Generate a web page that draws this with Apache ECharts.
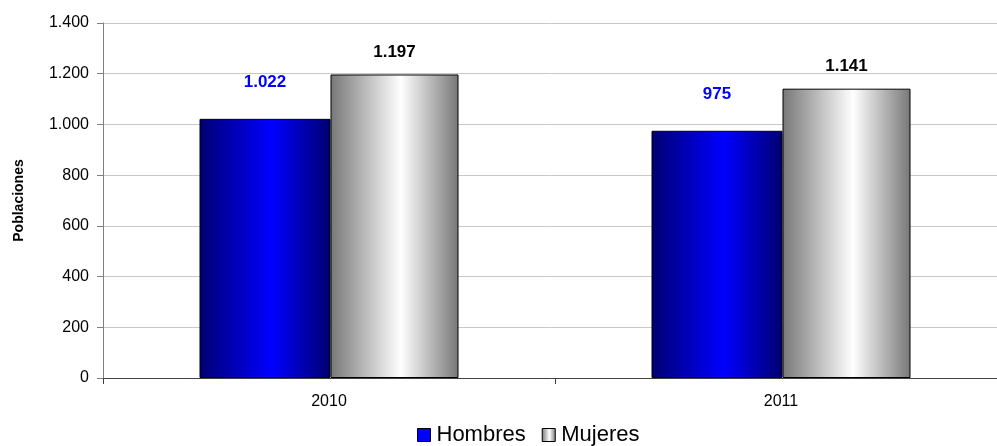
<!DOCTYPE html>
<html><head><meta charset="utf-8">
<script src="https://cdn.jsdelivr.net/npm/echarts@6/dist/echarts.min.js"></script>
<style>html,body{margin:0;padding:0;background:#fff}#c{width:997px;height:446px}</style>
</head><body><div id="c"></div>
<script>
const categories = ['2010', '2011'];
const hombres = [1022, 975];
const mujeres = [1197, 1141];
const yTicks = [0, 200, 400, 600, 800, 1000, 1200, 1400];

function fmt(v){ return String(v).replace(/\B(?=(\d{3})+(?!\d))/g, '.'); }

const blueGrad = {type:'linear',x:0,y:0,x2:1,y2:0,colorStops:[
  {offset:0,color:'#000070'},{offset:0.55,color:'#0000ff'},{offset:1,color:'#000070'}]};
const grayGrad = {type:'linear',x:0,y:0,x2:1,y2:0,colorStops:[
  {offset:0,color:'#777777'},{offset:0.55,color:'#ffffff'},{offset:1,color:'#777777'}]};

const FF = 'Liberation Sans, Arial, sans-serif';
const chart = echarts.init(document.getElementById('c'), null, {renderer:'canvas'});
chart.setOption({
  animation:false,
  textStyle:{fontFamily:FF},
  grid:{left:103,width:904,top:23,bottom:68,containLabel:false,outerBoundsMode:'none'},
  legend:{
    top:419,left:412,itemWidth:13,itemHeight:13,itemGap:16,icon:'rect',
    textStyle:{fontSize:22,color:'#000',fontFamily:FF,padding:[0,0,0,1]},
    data:[{name:'Hombres',itemStyle:{color:'#0000ff',borderColor:'#000',borderWidth:1}},
          {name:'Mujeres',itemStyle:{color:grayGrad,borderColor:'#000',borderWidth:1}}]
  },
  xAxis:{
    type:'category',data:categories,
    axisLine:{lineStyle:{color:'#404040'}},
    axisTick:{show:true,alignWithLabel:false,length:6,lineStyle:{color:'#404040'}},
    axisLabel:{color:'#000',fontSize:16,margin:16}
  },
  yAxis:{
    type:'value',min:yTicks[0],max:yTicks[yTicks.length-1],interval:200,
    name:'Poblaciones',nameLocation:'middle',nameGap:77,nameRotate:90,
    nameTextStyle:{fontWeight:'bold',fontSize:14,color:'#000'},
    axisLine:{show:true,lineStyle:{color:'#808080'}},
    axisTick:{show:true,length:6,lineStyle:{color:'#808080'}},
    splitLine:{lineStyle:{color:'#c8c8c8'}},
    axisLabel:{color:'#000',fontSize:16,margin:14,formatter:v=>fmt(v)}
  },
  series:[
    {name:'Hombres',type:'bar',data:hombres,barWidth:131,barGap:'0%',
     itemStyle:{color:blueGrad,borderColor:'#000',borderWidth:1},
     label:{show:true,position:'top',distance:28,color:'#0000ff',fontWeight:'bold',fontSize:17,formatter:p=>fmt(p.value)}},
    {name:'Mujeres',type:'bar',data:mujeres,barWidth:128,
     itemStyle:{color:grayGrad,borderColor:'#000',borderWidth:1},
     label:{show:true,position:'top',distance:14,color:'#000',fontWeight:'bold',fontSize:17,formatter:p=>fmt(p.value)}}
  ]
});
</script></body></html>
